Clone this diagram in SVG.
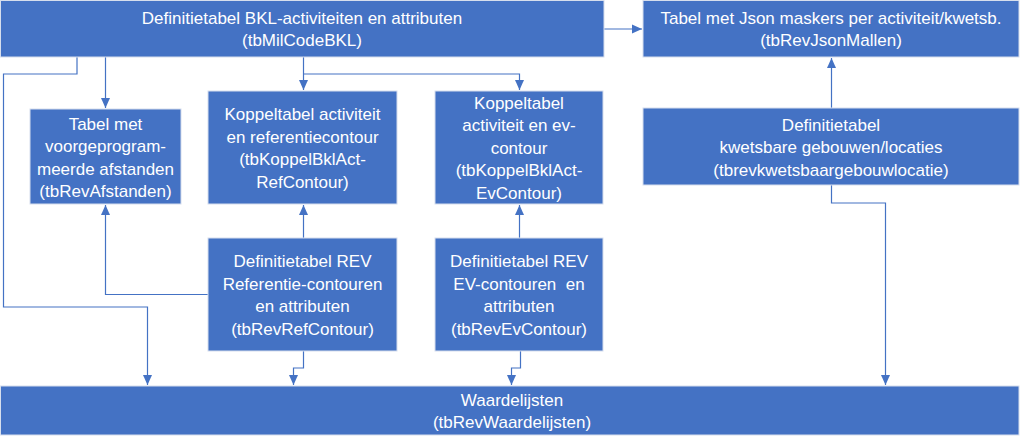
<svg xmlns="http://www.w3.org/2000/svg" width="1023" height="442" viewBox="0 0 1023 442">
<defs>
<marker id="arr" markerUnits="userSpaceOnUse" markerWidth="10" markerHeight="10" viewBox="0 0 10 10" refX="10" refY="5" orient="auto">
<path d="M0,0.5 L10,5 L0,9.5 Z" fill="#4472C4"/>
</marker>
<style>
.box{fill:#4472C4;stroke:#d6deed;stroke-width:1}
.t{font-family:"Liberation Sans",Arial,sans-serif;font-size:17px;fill:#ffffff;text-anchor:middle}
.c{fill:none;stroke:#4472C4;stroke-width:1.2;marker-end:url(#arr)}
</style>
</defs>
<rect width="1023" height="442" fill="#ffffff"/>
<g id="connectors">
<path class="c" d="M604,29 H642"/>
<path class="c" d="M77,57 V74 H3.5 V307 H147.5 V385"/>
<path class="c" d="M105.5,57 V108"/>
<path class="c" d="M303.5,57 V90"/>
<path class="c" d="M303.5,74 H519.5 V90"/>
<path class="c" d="M303.5,238 V205"/>
<path class="c" d="M208,294.5 H105.5 V205"/>
<path class="c" d="M303.5,351 V368 H293.5 V385"/>
<path class="c" d="M519.5,238 V205"/>
<path class="c" d="M520.5,351 V368 H511.5 V385"/>
<path class="c" d="M831.5,108 V58"/>
<path class="c" d="M831.5,185 V203 H885.5 V385"/>
</g>
<g id="n-bkl">
<rect class="box" x="0.5" y="0.5" width="603.5" height="56.5"/>
<text class="t" x="302" y="24">Definitietabel BKL-activiteiten en attributen</text>
<text class="t" x="302" y="46">(tbMilCodeBKL)</text>
</g>
<g id="n-json">
<rect class="box" x="643" y="0.5" width="376" height="56.5"/>
<text class="t" x="831" y="24">Tabel met Json maskers per activiteit/kwetsb.</text>
<text class="t" x="831" y="46">(tbRevJsonMallen)</text>
</g>
<g id="n-afstanden">
<rect class="box" x="30" y="109" width="151" height="95"/>
<text class="t" x="105.5" y="129.5">Tabel met</text>
<text class="t" x="105.5" y="152">voorgeprogram-</text>
<text class="t" x="105.5" y="174.5">meerde afstanden</text>
<text class="t" x="105.5" y="197">(tbRevAfstanden)</text>
</g>
<g id="n-koppelref">
<rect class="box" x="208" y="91" width="189" height="113"/>
<text class="t" x="302.5" y="120">Koppeltabel activiteit</text>
<text class="t" x="302.5" y="142.5">en referentiecontour</text>
<text class="t" x="302.5" y="165">(tbKoppelBklAct-</text>
<text class="t" x="302.5" y="187.5">RefContour)</text>
</g>
<g id="n-koppelev">
<rect class="box" x="435" y="91" width="168" height="113"/>
<text class="t" x="519" y="108.5">Koppeltabel</text>
<text class="t" x="519" y="131">activiteit en ev-</text>
<text class="t" x="519" y="153.5">contour</text>
<text class="t" x="519" y="176">(tbKoppelBklAct-</text>
<text class="t" x="519" y="198.5">EvContour)</text>
</g>
<g id="n-kwetsbaar">
<rect class="box" x="643" y="108" width="376" height="77"/>
<text class="t" x="831" y="130.5">Definitietabel</text>
<text class="t" x="831" y="153">kwetsbare gebouwen/locaties</text>
<text class="t" x="831" y="175.5">(tbrevkwetsbaargebouwlocatie)</text>
</g>
<g id="n-revref">
<rect class="box" x="208" y="238" width="189" height="113"/>
<text class="t" x="302.5" y="267">Definitietabel REV</text>
<text class="t" x="302.5" y="289.5">Referentie-contouren</text>
<text class="t" x="302.5" y="312">en attributen</text>
<text class="t" x="302.5" y="334.5">(tbRevRefContour)</text>
</g>
<g id="n-revev">
<rect class="box" x="435" y="238" width="168" height="113"/>
<text class="t" x="519" y="267">Definitietabel REV</text>
<text class="t" x="519" y="289.5" xml:space="preserve">EV-contouren  en</text>
<text class="t" x="519" y="312">attributen</text>
<text class="t" x="519" y="334.5">(tbRevEvContour)</text>
</g>
<g id="n-waardelijsten">
<rect class="box" x="0.5" y="386" width="1018.5" height="49"/>
<text class="t" x="512" y="405.5">Waardelijsten</text>
<text class="t" x="512" y="427.5">(tbRevWaardelijsten)</text>
</g>
</svg>
